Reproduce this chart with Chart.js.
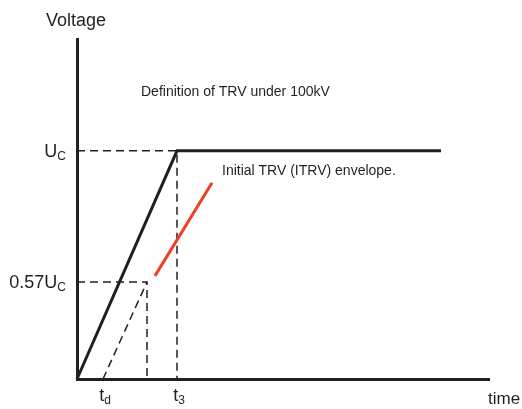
<!DOCTYPE html>
<html>
<head>
<meta charset="utf-8">
<title>Definition of TRV under 100kV</title>
<script src="https://cdn.jsdelivr.net/npm/chart.js@4/dist/chart.umd.min.js"></script>
<style>
  html, body { margin: 0; padding: 0; background: #fff; }
  #wrap { width: 522px; height: 409px; }
</style>
</head>
<body>
<div id="wrap"><canvas id="trvChart" width="522" height="409"></canvas></div>
<script>
// values (x: t3 = 100, y: Uc = 1)
var riseX = [0, 100, 364];
var riseY = [0, 1, 1];
var itrvX = [78, 135];
var itrvY = [0.452, 0.860];
var ucDashX = [0, 100, 100];
var ucDashY = [1, 1, 0];
var lowDashX = [0, 70, 70];
var lowDashY = [0.425, 0.425, 0];
var tdDashX = [26, 70];
var tdDashY = [0, 0.425];

// tick labels (main text + subscript)
var yTicks = [0.425, 1];
var yTickMain = ['0.57U', 'U'];
var yTickSub = ['C', 'C'];
var xTicks = [26, 100];
var xTickMain = ['t', 't'];
var xTickSub = ['d', '3'];

var xMax = 412;
var yMax = 1.49;

var ink = '#231f20';
var red = '#ee4024';
var bigFont = '18px "Liberation Sans", Arial, sans-serif';
var subFont = '12px "Liberation Sans", Arial, sans-serif';
var noteFont = '14px "Liberation Sans", Arial, sans-serif';

function toPoints(xs, ys) {
  var pts = [];
  for (var i = 0; i < xs.length; i++) {
    pts.push({x: xs[i], y: ys[i]});
  }
  return pts;
}

function drawSub(ctx, main, sub, x, y, align) {
  ctx.font = bigFont;
  var w1 = ctx.measureText(main).width;
  ctx.font = subFont;
  var w2 = ctx.measureText(sub).width;
  var start = x;
  if (align == 'right') start = x - w1 - w2;
  if (align == 'center') start = x - (w1 + w2) / 2;
  ctx.textAlign = 'left';
  ctx.font = bigFont;
  ctx.fillText(main, start, y);
  ctx.font = subFont;
  ctx.fillText(sub, start + w1, y + 3);
}

var labelsPlugin = {
  id: 'trvLabels',
  afterDraw: function(chart) {
    var ctx = chart.ctx;
    var xs = chart.scales.x;
    var ys = chart.scales.y;
    ctx.save();
    ctx.fillStyle = ink;
    ctx.textBaseline = 'alphabetic';

    for (var i = 0; i < yTicks.length; i++) {
      drawSub(ctx, yTickMain[i], yTickSub[i], xs.left - 11, ys.getPixelForValue(yTicks[i]) + 6, 'right');
    }
    for (var j = 0; j < xTicks.length; j++) {
      drawSub(ctx, xTickMain[j], xTickSub[j], xs.getPixelForValue(xTicks[j]) + 2, ys.bottom + 22, 'center');
    }

    // axis names
    ctx.textAlign = 'left';
    ctx.font = bigFont;
    ctx.fillText('Voltage', xs.left - 31, ys.top - 13);
    ctx.font = '17px "Liberation Sans", Arial, sans-serif';
    ctx.fillText('time', xs.right - 1, ys.bottom + 25);

    // notes
    ctx.font = noteFont;
    ctx.fillText('Definition of TRV under 100kV', xs.left + 64, ys.getPixelForValue(1.241));
    ctx.fillText('Initial TRV (ITRV) envelope.', xs.left + 145, ys.getPixelForValue(0.895));
    ctx.restore();
  }
};

var dash = [8, 5];

var config = {
  type: 'scatter',
  data: {
    datasets: [
      { label: 'TRV', data: toPoints(riseX, riseY), borderColor: ink, borderWidth: 3 },
      { label: 'ITRV', data: toPoints(itrvX, itrvY), borderColor: red, borderWidth: 3 },
      { label: 'Uc', data: toPoints(ucDashX, ucDashY), borderColor: ink, borderWidth: 1.5, borderDash: dash },
      { label: '0.57Uc', data: toPoints(lowDashX, lowDashY), borderColor: ink, borderWidth: 1.5, borderDash: dash },
      { label: 'td', data: toPoints(tdDashX, tdDashY), borderColor: ink, borderWidth: 1.5, borderDash: dash }
    ]
  },
  options: {
    responsive: false,
    animation: false,
    showLine: true,
    clip: false,
    elements: {
      point: { radius: 0, hoverRadius: 0 },
      line: { tension: 0, borderCapStyle: 'butt', fill: false }
    },
    layout: {
      padding: { left: 77, top: 39, right: 33, bottom: 30 }
    },
    plugins: {
      legend: { display: false },
      tooltip: { enabled: false }
    },
    scales: {
      x: {
        type: 'linear', min: 0, max: xMax,
        ticks: { display: false },
        grid: { display: false, drawTicks: false },
        border: { display: true, width: 3, color: ink }
      },
      y: {
        type: 'linear', min: 0, max: yMax,
        ticks: { display: false },
        grid: { display: false, drawTicks: false },
        border: { display: true, width: 3, color: ink }
      }
    }
  },
  plugins: [labelsPlugin]
};

var trvChart = new Chart(document.getElementById('trvChart'), config);
</script>
</body>
</html>
